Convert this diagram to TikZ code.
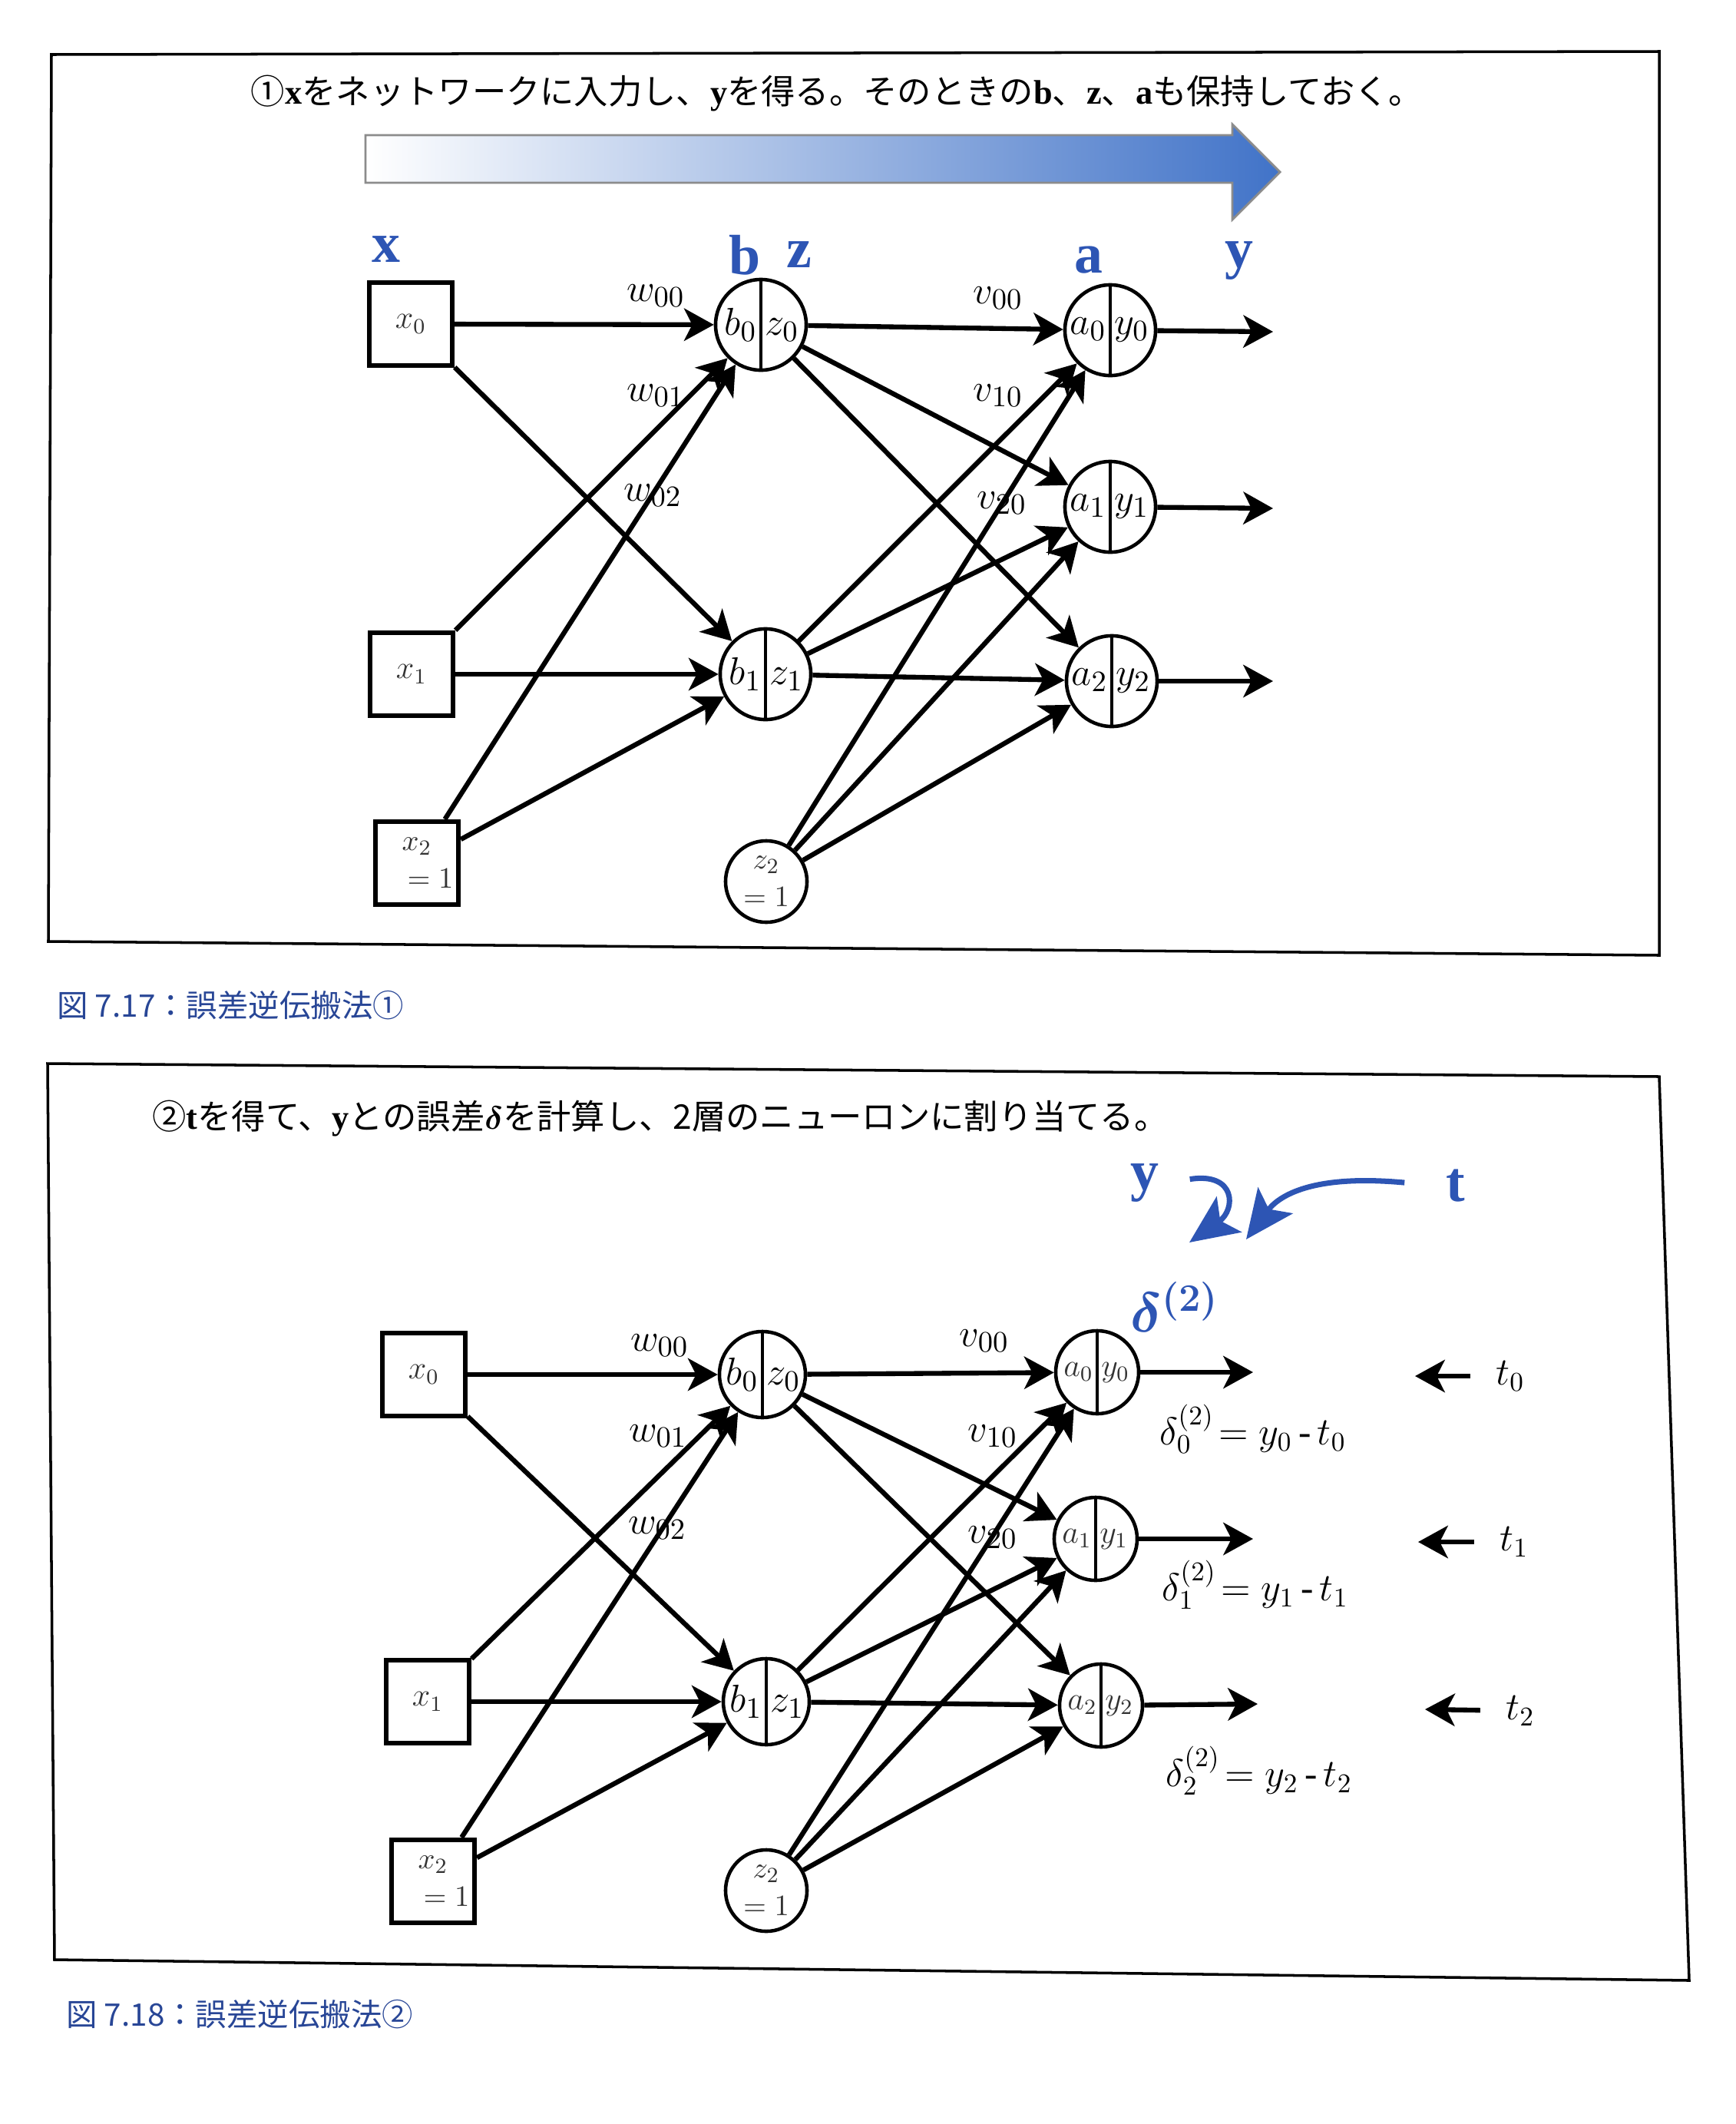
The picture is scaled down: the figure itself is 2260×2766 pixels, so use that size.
\documentclass[tikz,border=0pt]{standalone}
\usepackage{fontspec}
\setmainfont{Liberation Serif}
\newfontfamily\jpfont{Noto Sans CJK JP}
\usepackage{bm}
\usetikzlibrary{arrows.meta}

\definecolor{labelblue}{RGB}{45,85,180}
\definecolor{capblue}{RGB}{40,70,150}
\definecolor{arrowblue}{RGB}{65,115,200}

\newcommand{\halves}[2]{\makebox[0.5cm][r]{#1\kern1.5pt}\makebox[0.5cm][l]{\kern1.5pt#2}}

\tikzset{
  panel/.style={line width=1pt},
  heading/.style={font=\fontsize{12.6}{14}\selectfont, anchor=center},
  caption/.style={text=capblue, font=\jpfont\fontsize{11.5}{13}\selectfont, anchor=west},
  box/.style={draw, line width=1.8pt, minimum size=1.08cm, inner sep=0pt, text=black!80, font=\fontsize{12}{12}\selectfont},
  unit/.style={draw, circle, line width=1.3pt, minimum size=1.18cm, inner sep=0pt, font=\fontsize{15}{15}\selectfont,
    path picture={\draw[line width=1.3pt] (path picture bounding box.north) -- (path picture bounding box.south);}},
  bias/.style={draw, circle, line width=1.3pt, minimum size=1.06cm, inner sep=0pt, align=center, text=black!80, font=\fontsize{11}{14}\selectfont},
  link/.style={line width=1.8pt, -{Stealth[length=11pt,width=12pt,inset=3pt]}},
  wlabel/.style={font=\fontsize{15}{15}\selectfont},
  layerlab/.style={text=labelblue, font=\bfseries\fontsize{21}{21}\selectfont},
  bluearrow/.style={draw=labelblue, line width=2pt, -{Stealth[length=18pt,width=16pt,inset=4pt]}},
  eq/.style={font=\fontsize{14}{14}\selectfont},
}

\begin{document}
\begin{tikzpicture}[x=0.01cm, y=-0.01cm]
\useasboundingbox (0,0) rectangle (2260,2766);

% ---- figure 7.17 ----
\draw[panel] (67,71) -- (2161,67) -- (2161,1244) -- (63,1226) -- cycle;
\node[heading] (step1) at (1090,122) {{\jpfont ①}\textbf{x}{\jpfont をネットワークに入力し、}\textbf{y}{\jpfont を得る。そのときの}\textbf{b}{\jpfont 、}\textbf{z}{\jpfont 、}\textbf{a}{\jpfont も保持しておく。}};
\shade[left color=white, middle color=arrowblue!15, right color=arrowblue, draw=black!45, line width=0.8pt]
  (476,176) -- (1605,176) -- (1605,162) -- (1667,224) -- (1605,286) -- (1605,238) -- (476,238) -- cycle;

\node[layerlab] (xlab) at (503,325) {x};
\node[layerlab] (blab) at (970,332) {b};
\node[layerlab] (zlab) at (1041,332) {z};
\node[layerlab] (alab) at (1418,339) {a};
\node[layerlab] (ylab) at (1614,340) {y};

\node[box] (x0) at (535,422) {$x_0$};
\node[box] (x1) at (536,878) {$x_1$};
\node[box, align=center, font=\fontsize{11}{14}\selectfont] (x2) at (543,1124) {$x_2$\\\hspace{10pt}$=1$};
\node[unit] (h0) at (991,423) {\halves{$b_0$}{$z_0$}};
\node[unit] (h1) at (997,878) {\halves{$b_1$}{$z_1$}};
\node[bias] (z2) at (998,1148) {$z_2$\\$=1$};
\node[unit] (o0) at (1446,430) {\halves{$a_0$}{$y_0$}};
\node[unit] (o1) at (1446,660) {\halves{$a_1$}{$y_1$}};
\node[unit] (o2) at (1448,887) {\halves{$a_2$}{$y_2$}};
\coordinate (y0out) at (1658,432);
\coordinate (y1out) at (1658,662);
\coordinate (y2out) at (1658,887);

\node[wlabel] (w00) at (854,385) {$w_{00}$};
\node[wlabel] (w01) at (854,515) {$w_{01}$};
\node[wlabel] (w02) at (850,645) {$w_{02}$};
\node[wlabel] (v00) at (1300,388) {$v_{00}$};
\node[wlabel] (v10) at (1300,515) {$v_{10}$};
\node[wlabel] (v20) at (1305,655) {$v_{20}$};

\draw[link] (x0) -- (h0);
\draw[link] (x0) -- (h1);
\draw[link] (x1) -- (h0);
\draw[link] (x1) -- (h1);
\draw[link] (x2) -- (h0);
\draw[link] (x2) -- (h1);
\draw[link] (h0) -- (o0);
\draw[link] (h0) -- (o1);
\draw[link] (h0) -- (o2);
\draw[link] (h1) -- (o0);
\draw[link] (h1) -- (o1);
\draw[link] (h1) -- (o2);
\draw[link] (z2) -- (o0);
\draw[link] (z2) -- (o1);
\draw[link] (z2) -- (o2);
\draw[link] (o0) -- (y0out);
\draw[link] (o1) -- (y1out);
\draw[link] (o2) -- (y2out);

\node[caption] (cap1) at (62,1309) {図 7.17：誤差逆伝搬法①};

% ---- figure 7.18 ----
\draw[panel] (62,1385) -- (2161,1402) -- (2200,2579) -- (71,2552) -- cycle;
\node[heading] (step2) at (860,1457) {{\jpfont ②}\textbf{t}{\jpfont を得て、}\textbf{y}{\jpfont との誤差}$\bm{\delta}${\jpfont を計算し、2層のニューロンに割り当てる。}};

\node[layerlab] (ylabb) at (1491,1540) {y};
\node[layerlab] (tlabb) at (1896,1544) {t};
\node[layerlab] (dlab) at (1530,1702) {$\bm{\delta}^{\bm{(2)}}$};
\coordinate (ytip) at (1549,1618);
\coordinate (ttip) at (1623,1614);
\draw[bluearrow, shorten <=8pt] (ylabb.east) .. controls (1610,1526) and (1610,1575) .. (ytip);
\draw[bluearrow, shorten <=12pt] (tlabb.west) .. controls (1700,1528) and (1662,1562) .. (ttip);

\node[box] (x0b) at (552,1790) {$x_0$};
\node[box] (x1b) at (557,2216) {$x_1$};
\node[box, align=center, font=\fontsize{11}{14}\selectfont] (x2b) at (564,2450) {$x_2$\\\hspace{10pt}$=1$};
\node[unit, minimum size=1.12cm] (h0b) at (993,1790) {\halves{$b_0$}{$z_0$}};
\node[unit, minimum size=1.12cm] (h1b) at (998,2216) {\halves{$b_1$}{$z_1$}};
\node[bias] (z2b) at (998,2462) {$z_2$\\$=1$};
\node[unit, minimum size=1.08cm, font=\fontsize{12}{12}\selectfont, text=black!80] (o0b) at (1429,1787) {\halves{$a_0$}{$y_0$}};
\node[unit, minimum size=1.08cm, font=\fontsize{12}{12}\selectfont, text=black!80] (o1b) at (1427,2004) {\halves{$a_1$}{$y_1$}};
\node[unit, minimum size=1.08cm, font=\fontsize{12}{12}\selectfont, text=black!80] (o2b) at (1434,2221) {\halves{$a_2$}{$y_2$}};
\coordinate (y0outb) at (1632,1787);
\coordinate (y1outb) at (1632,2004);
\coordinate (y2outb) at (1638,2219);

\node[wlabel] (w00b) at (859,1752) {$w_{00}$};
\node[wlabel] (w01b) at (857,1870) {$w_{01}$};
\node[wlabel] (w02b) at (856,1990) {$w_{02}$};
\node[wlabel] (v00b) at (1282,1746) {$v_{00}$};
\node[wlabel] (v10b) at (1293,1870) {$v_{10}$};
\node[wlabel] (v20b) at (1293,2002) {$v_{20}$};

\draw[link] (x0b) -- (h0b);
\draw[link] (x0b) -- (h1b);
\draw[link] (x1b) -- (h0b);
\draw[link] (x1b) -- (h1b);
\draw[link] (x2b) -- (h0b);
\draw[link] (x2b) -- (h1b);
\draw[link] (h0b) -- (o0b);
\draw[link] (h0b) -- (o1b);
\draw[link] (h0b) -- (o2b);
\draw[link] (h1b) -- (o0b);
\draw[link] (h1b) -- (o1b);
\draw[link] (h1b) -- (o2b);
\draw[link] (z2b) -- (o0b);
\draw[link] (z2b) -- (o1b);
\draw[link] (z2b) -- (o2b);
\draw[link] (o0b) -- (y0outb);
\draw[link] (o1b) -- (y1outb);
\draw[link] (o2b) -- (y2outb);

\node[eq] (d0) at (1632,1861) {$\delta_0^{(2)}\!=y_0$\,-\,$t_0$};
\node[eq] (d1) at (1635,2064) {$\delta_1^{(2)}\!=y_1$\,-\,$t_1$};
\node[eq] (d2) at (1640,2306) {$\delta_2^{(2)}\!=y_2$\,-\,$t_2$};

\node[eq] (t0) at (1967,1792) {$t_0$};
\node[eq] (t1) at (1972,2008) {$t_1$};
\node[eq] (t2) at (1980,2228) {$t_2$};
\coordinate (t0tip) at (1843,1792);
\coordinate (t1tip) at (1847,2008);
\coordinate (t2tip) at (1856,2226);
\draw[link, shorten <=6pt] (t0) -- (t0tip);
\draw[link, shorten <=6pt] (t1) -- (t1tip);
\draw[link, shorten <=6pt] (t2) -- (t2tip);

\node[caption] (cap2) at (74,2623) {図 7.18：誤差逆伝搬法②};
\end{tikzpicture}
\end{document}
